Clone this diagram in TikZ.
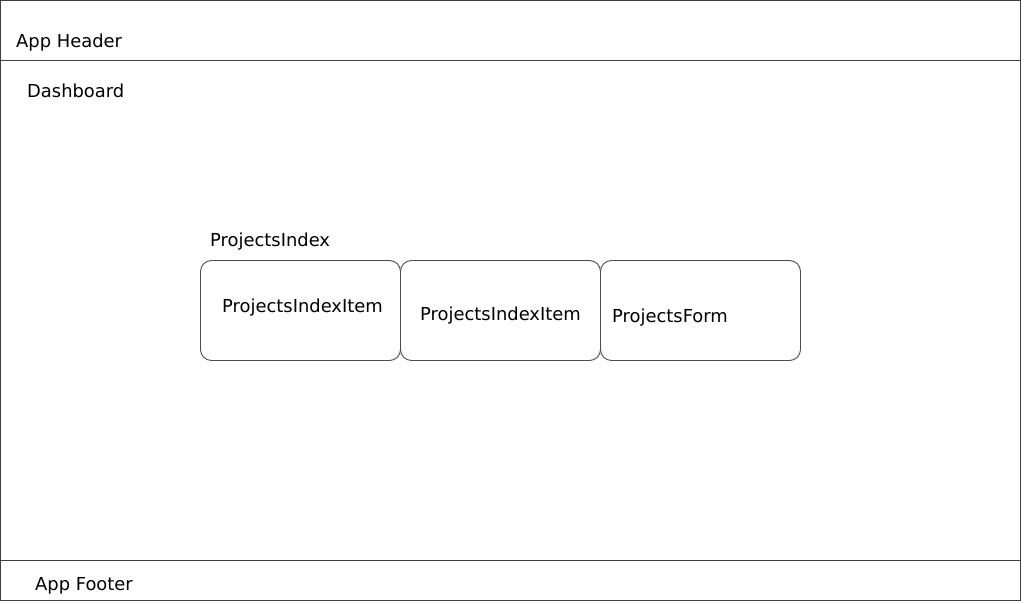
\documentclass[tikz,border=0pt]{standalone}
\usepackage{fontspec}
\setmainfont{DejaVu Sans}
\begin{document}
\begin{tikzpicture}[x=1pt,y=-1pt,
  frame/.style={draw=black!75,line width=1pt},
  comp/.style={draw=black!70,line width=0.9pt,rounded corners=11pt},
  lbl/.style={anchor=base west,inner sep=0pt,font=\fontsize{17.9}{21}\selectfont}]
\useasboundingbox (0,0) rectangle (1028,604);
\fill[white] (0,0) rectangle (1028,604);
\draw[frame] (0.5,0.5) rectangle (1020.5,600.5);
\draw[frame] (0.5,60.5) coordinate (hl) -- (1020.5,60.5) coordinate (hr);
\draw[frame] (0.5,560.5) coordinate (fl) -- (1020.5,560.5) coordinate (fr);
\node[lbl] (header) at (16,48) {App Header};
\node[lbl] (dash) at (27,98) {Dashboard};
\node[lbl] (footer) at (35,590) {App Footer};
\node[lbl] (pindex) at (210,247) {ProjectsIndex};
\draw[comp] (200.5,260.5) rectangle (400.5,360.5);
\draw[comp] (400.5,260.5) rectangle (600.5,360.5);
\draw[comp] (600.5,260.5) rectangle (800.5,360.5);
\node[lbl] (item1) at (222,312) {ProjectsIndexItem};
\node[lbl] (item2) at (420,320) {ProjectsIndexItem};
\node[lbl] (form) at (612,322) {ProjectsForm};
\end{tikzpicture}
\end{document}
